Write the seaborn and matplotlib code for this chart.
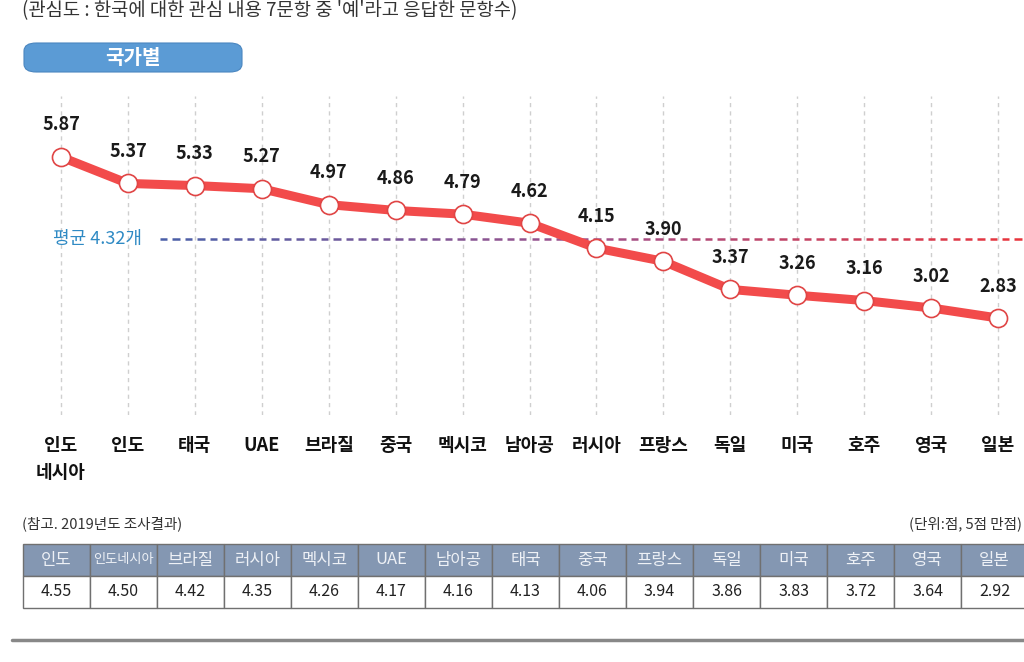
import numpy as np
import matplotlib
matplotlib.use("Agg")
import matplotlib.pyplot as plt
from matplotlib.patches import FancyBboxPatch
from matplotlib.lines import Line2D
from matplotlib.collections import LineCollection
from matplotlib.colors import LinearSegmentedColormap
import seaborn as sns

# 2020 scores by country
countries = ["인도\n네시아", "인도", "태국", "UAE", "브라질", "중국", "멕시코", "남아공",
             "러시아", "프랑스", "독일", "미국", "호주", "영국", "일본"]
scores = [5.87, 5.37, 5.33, 5.27, 4.97, 4.86, 4.79, 4.62, 4.15, 3.90, 3.37, 3.26, 3.16, 3.02, 2.83]
average = 4.32

# reference table: 2019 results
ref_countries = ["인도", "인도네시아", "브라질", "러시아", "멕시코", "UAE", "남아공", "태국",
                 "중국", "프랑스", "독일", "미국", "호주", "영국", "일본"]
ref_scores = [4.55, 4.50, 4.42, 4.35, 4.26, 4.17, 4.16, 4.13, 4.06, 3.94, 3.86, 3.83, 3.72, 3.64, 2.92]

sns.set_theme(style="white")
plt.rcParams["font.family"] = ["Noto Sans CJK KR", "DejaVu Sans"]

fig = plt.figure(figsize=(10.24, 6.62), dpi=100)

# main line chart
ax = fig.add_axes([0, 1 - 415 / 662, 1, 319 / 662])
xs = np.arange(len(scores))
sns.lineplot(x=xs, y=scores, ax=ax, color="#f24b4b", lw=6.5, sort=False,
             marker="o", markersize=13, markerfacecolor="white",
             markeredgecolor="#e04545", markeredgewidth=1.2, zorder=3)

ax.set_xlim(-0.911, 14.388)
ax.set_ylim(1.0, 7.02)
ax.set_xticks(xs)
ax.set_xticklabels(countries, fontsize=13, fontweight="bold", color="#111111",
                   linespacing=1.55)
ax.tick_params(axis="x", length=0, pad=15)
ax.set_yticks([])
ax.grid(axis="x", color="#cfcfcf", linestyle=(0, (3, 3)), lw=1)
for s in ax.spines.values():
    s.set_visible(False)

for x, v in zip(xs, scores):
    ax.annotate(f"{v:.2f}", (x, v), xytext=(0, 23), textcoords="offset points",
                ha="center", va="center", fontsize=13, fontweight="bold",
                color="#1a1a1a")

# average line with blue -> red gradient dashes
x0, x1 = 1.48, 14.388
dash, gap = 0.11, 0.075
starts = np.arange(x0, x1, dash + gap)
segs = [[(s, average), (min(s + dash, x1), average)] for s in starts]
cmap = LinearSegmentedColormap.from_list("avg", ["#4a5fa8", "#a0508a", "#e8343c"])
lc = LineCollection(segs, colors=cmap(np.linspace(0, 1, len(segs))), lw=1.8, zorder=2)
ax.add_collection(lc)
ax.text(0.54, average, f"평균 {average}개", ha="center", va="center",
        fontsize=13, color="#2f8ac4")

# top caption and pill label
fig.text(22 / 1024, 1 - 11 / 662, "(관심도 : 한국에 대한 관심 내용 7문항 중 '예'라고 응답한 문항수)",
         ha="left", va="center", fontsize=13.5, color="#333333")
pill = FancyBboxPatch((24 / 1024, 1 - 72 / 662), 218 / 1024, 29 / 662,
                      boxstyle="round,pad=0,rounding_size=0.012",
                      transform=fig.transFigure, facecolor="#5b9bd5",
                      edgecolor="#4a86c0", lw=0.8)
fig.add_artist(pill)
fig.text(133 / 1024, 1 - 57 / 662, "국가별", ha="center", va="center",
         fontsize=14.5, fontweight="bold", color="white")

# reference table
fig.text(22 / 1024, 1 - 524 / 662, "(참고. 2019년도 조사결과)", ha="left", va="center",
         fontsize=10.5, color="#333333")
fig.text(1022 / 1024, 1 - 524 / 662, "(단위:점, 5점 만점)", ha="right", va="center",
         fontsize=10.5, color="#333333")

tax = fig.add_axes([23 / 1024, 1 - 608 / 662, 1005 / 1024, 64 / 662])
tax.axis("off")
tbl = tax.table(cellText=[ref_countries, [f"{v:.2f}" for v in ref_scores]],
                cellLoc="center", bbox=[0, 0, 1, 1])
tbl.auto_set_font_size(False)
for (r, c), cell in tbl.get_celld().items():
    cell.set_edgecolor("#707070")
    cell.set_linewidth(1.0)
    if r == 0:
        cell.set_facecolor("#8497b2")
        cell.get_text().set_color("#eef1f6")
        cell.get_text().set_fontsize(9.5 if len(ref_countries[c]) > 4 else 12)
    else:
        cell.set_facecolor("white")
        cell.get_text().set_color("#222222")
        cell.get_text().set_fontsize(11.5)

fig.add_artist(Line2D([12 / 1024, 1], [1 - 640 / 662] * 2, transform=fig.transFigure,
                      color="#888888", lw=2.5))

fig.savefig("out.png", dpi=100)
